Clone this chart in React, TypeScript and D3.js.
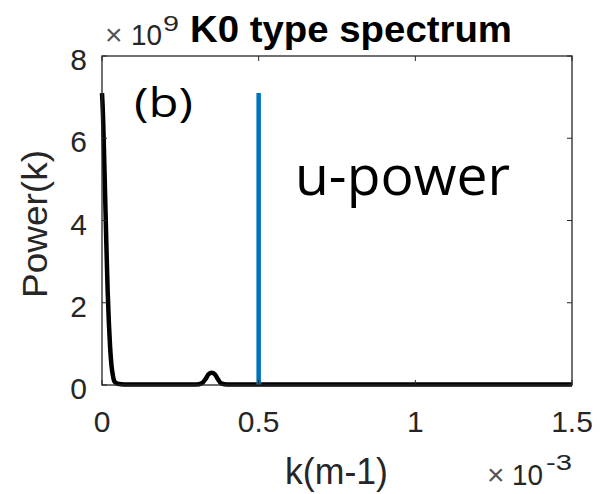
import React from "react";
import * as d3 from "d3";

const kValues = [0, 0.003, 0.006, 0.01, 0.014, 0.018, 0.022, 0.026, 0.03, 0.035, 0.04, 0.05, 0.06, 0.08, 0.1, 0.15, 0.2, 0.25, 0.3, 0.32, 0.33, 0.34, 0.35, 0.36, 0.37, 0.38, 0.4, 0.5, 0.7, 0.9, 1.1, 1.3, 1.5];
const powerValues = [7.1, 6.6, 5.8, 4.6, 3.4, 2.3, 1.5, 0.9, 0.5, 0.22, 0.08, 0.03, 0.02, 0.01, 0.01, 0.01, 0.01, 0.01, 0.01, 0.05, 0.14, 0.26, 0.3, 0.26, 0.14, 0.04, 0.01, 0.01, 0.01, 0.01, 0.01, 0.01, 0.01];
const uPowerK = 0.5;
const uPowerValue = 7.1;
const xTicks = [0, 0.5, 1, 1.5];
const xTickLabels = ["0", "0.5", "1", "1.5"];
const yTicks = [0, 2, 4, 6, 8];

export default function App() {
  const left = 102, right = 572, top = 56, bottom = 385;
  const x = d3.scaleLinear().domain([0, 1.5]).range([left, right]);
  const y = d3.scaleLinear().domain([0, 8]).range([bottom, top]);
  const pts: [number, number][] = kValues.map((k, i) => [k, powerValues[i]]);
  const line = d3.line<[number, number]>().x(d => x(d[0])).y(d => y(d[1])).curve(d3.curveMonotoneX);
  const tickColor = "#262626";
  const font = "'Liberation Sans', Arial, sans-serif";
  return (
    <svg width={600} height={494} style={{ position: "absolute", left: 0, top: 0, background: "#fff" }}>
      <rect x={0} y={0} width={600} height={494} fill="#fff" />
      <path d={line(pts) || ""} fill="none" stroke="#000" strokeWidth={4.5} strokeLinejoin="round" />
      <line x1={x(uPowerK)} x2={x(uPowerK)} y1={y(0)} y2={y(uPowerValue)} stroke="#0072BD" strokeWidth={4.5} />
      <rect x={left} y={top} width={right - left} height={bottom - top} fill="none" stroke={tickColor} strokeWidth={1.3} />
      {xTicks.map(t => (
        <g key={"x" + t}>
          <line x1={x(t)} x2={x(t)} y1={bottom} y2={bottom - 5} stroke={tickColor} />
          <line x1={x(t)} x2={x(t)} y1={top} y2={top + 5} stroke={tickColor} />
        </g>
      ))}
      {yTicks.map(t => (
        <g key={"y" + t}>
          <line x1={left} x2={left + 5} y1={y(t)} y2={y(t)} stroke={tickColor} />
          <line x1={right} x2={right - 5} y1={y(t)} y2={y(t)} stroke={tickColor} />
          <text x={87} y={y(t) + 14} textAnchor="end" fontFamily={font} fontSize={30} fill={tickColor}>{t}</text>
        </g>
      ))}
      {xTicks.map((t, i) => (
        <text key={"xl" + t} x={x(t)} y={432} textAnchor="middle" fontFamily={font} fontSize={30} fill={tickColor}>{xTickLabels[i]}</text>
      ))}
      <text x={285} y={484} textLength={103} lengthAdjust="spacingAndGlyphs" fontFamily={font} fontSize={36} fill={tickColor}>k(m-1)</text>
      <text x={487} y={485} fontFamily={font} fontSize={30} fill="#555">×</text>
      <text x={512} y={485} textLength={31} lengthAdjust="spacingAndGlyphs" fontFamily={font} fontSize={30} fill={tickColor}>10</text>
      <text x={546} y={470} textLength={26} lengthAdjust="spacingAndGlyphs" fontFamily={font} fontSize={22} fill={tickColor}>-3</text>
      <text x={105} y={45} fontFamily={font} fontSize={30} fill="#555">×</text>
      <text x={131} y={45} textLength={31} lengthAdjust="spacingAndGlyphs" fontFamily={font} fontSize={30} fill={tickColor}>10</text>
      <text x={163} y={31} textLength={16} lengthAdjust="spacingAndGlyphs" fontFamily={font} fontSize={22} fill={tickColor}>9</text>
      <text x={190} y={42} textLength={322} lengthAdjust="spacingAndGlyphs" fontFamily={font} fontSize={37} fontWeight="bold" fill="#000">K0 type spectrum</text>
      <text transform={`translate(47,224) rotate(-90)`} textAnchor="middle" textLength={148} lengthAdjust="spacingAndGlyphs" fontFamily={font} fontSize={35} fill={tickColor}>Power(k)</text>
      <text x={134} y={117} textLength={59} lengthAdjust="spacingAndGlyphs" fontFamily="'Open Sans', sans-serif" fontSize={40} fill="#000">(b)</text>
      <text x={295} y={195} textLength={215} lengthAdjust="spacingAndGlyphs" fontFamily="'Open Sans', sans-serif" fontSize={55} fill="#000">u-power</text>
    </svg>
  );
}
